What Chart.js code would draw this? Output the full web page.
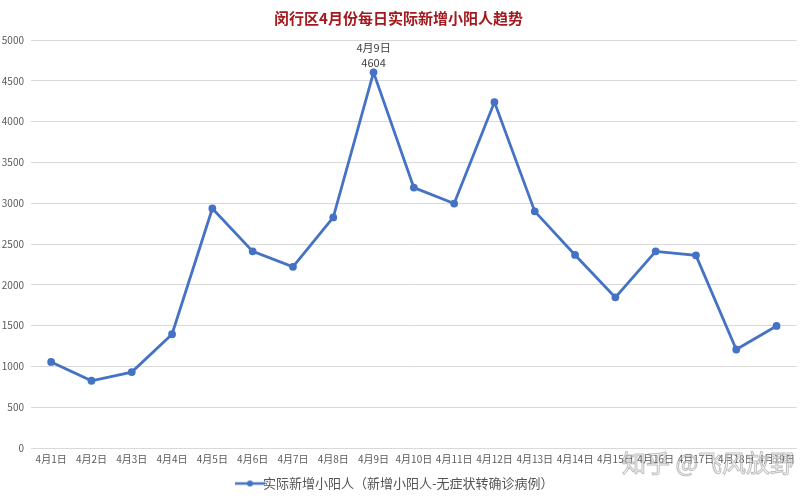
<!DOCTYPE html>
<html>
<head>
<meta charset="utf-8">
<script src="https://cdn.jsdelivr.net/npm/chart.js@4"></script>
<style>
  html, body { margin: 0; padding: 0; background: #fff; }
</style>
</head>
<body>
<canvas id="trend-chart" width="802" height="500"></canvas>
<script>
// Daily numbers
const days = ['4月1日', '4月2日', '4月3日', '4月4日', '4月5日', '4月6日', '4月7日', '4月8日', '4月9日', '4月10日',
    '4月11日', '4月12日', '4月13日', '4月14日', '4月15日', '4月16日', '4月17日', '4月18日', '4月19日'];
const newCases = [1055, 824, 930, 1394, 2935, 2410, 2220, 2826, 4604, 3191,
    2996, 4239, 2900, 2366, 1846, 2410, 2361, 1207, 1496];
const yTicks = [0, 500, 1000, 1500, 2000, 2500, 3000, 3500, 4000, 4500, 5000];
const labelledIndex = 8; // only the peak carries a label

const blue = '#4472C4';
const font = "'Noto Sans CJK SC', 'Liberation Sans', sans-serif";

// legend marker: a short line with a dot in the middle
const marker = document.createElement('canvas');
marker.width = 30;
marker.height = 8;
const mctx = marker.getContext('2d');
mctx.strokeStyle = blue;
mctx.lineWidth = 2.5;
mctx.beginPath();
mctx.moveTo(0, 4);
mctx.lineTo(30, 4);
mctx.stroke();
mctx.fillStyle = blue;
mctx.beginPath();
mctx.arc(15, 4, 3, 0, Math.PI * 2);
mctx.fill();

// peak label + watermark
const extras = {
    id: 'extras',
    afterDatasetsDraw(chart) {
        const c = chart.ctx;
        const x = chart.scales.x.getPixelForValue(labelledIndex);
        const y = chart.scales.y.getPixelForValue(newCases[labelledIndex]);
        c.save();
        c.fillStyle = '#404040';
        c.font = '11px ' + font;
        c.textAlign = 'center';
        c.textBaseline = 'middle';
        c.fillText(days[labelledIndex], x, y - 25);
        c.fillText(String(newCases[labelledIndex]), x, y - 10);
        c.restore();
    },
    afterDraw(chart) {
        const c = chart.ctx;
        c.save();
        c.font = '24px ' + font;
        c.textAlign = 'left';
        c.textBaseline = 'middle';
        c.fillStyle = 'rgba(255,255,255,0.55)';
        c.strokeStyle = 'rgba(110,110,110,0.45)';
        c.lineWidth = 1;
        c.fillText('知乎 @飞风放野', 622, 463);
        c.strokeText('知乎 @飞风放野', 622, 463);
        c.restore();
    }
};

new Chart(document.getElementById('trend-chart').getContext('2d'), {
    type: 'line',
    data: {
        labels: days,
        datasets: [{
            label: '实际新增小阳人（新增小阳人-无症状转确诊病例）',
            data: newCases,
            borderColor: blue,
            backgroundColor: blue,
            borderWidth: 2.8,
            pointRadius: 2.5,
            pointHoverRadius: 2.5,
            tension: 0,
            pointStyle: 'circle'
        }]
    },
    options: {
        responsive: false,
        animation: false,
        layout: { padding: { left: 0, right: 5, top: 0, bottom: 0 } },
        plugins: {
            tooltip: { enabled: false },
            title: {
                display: true,
                text: '闵行区4月份每日实际新增小阳人趋势',
                color: '#A31A1E',
                font: { family: font, size: 15, weight: 'bold' },
                padding: { top: 9, bottom: 13 }
            },
            legend: {
                position: 'bottom',
                labels: {
                    color: '#555555',
                    font: { family: font, size: 13 },
                    usePointStyle: true,
                    padding: 7,
                    generateLabels(chart) {
                        const items = Chart.defaults.plugins.legend.labels.generateLabels(chart);
                        items.forEach(it => { it.pointStyle = marker; });
                        return items;
                    }
                }
            }
        },
        scales: {
            x: {
                offset: true,
                grid: { display: false, drawTicks: false },
                border: { display: false },
                ticks: {
                    color: '#595959',
                    font: { family: font, size: 10 },
                    maxRotation: 0,
                    autoSkip: false,
                    padding: 5
                }
            },
            y: {
                min: 0,
                max: 5000,
                afterBuildTicks(scale) {
                    scale.ticks = yTicks.map(v => ({ value: v }));
                },
                afterFit(scale) {
                    scale.width = 31;
                },
                grid: { color: '#D9D9D9', lineWidth: 1, drawTicks: false },
                border: { display: false },
                ticks: {
                    color: '#595959',
                    font: { family: font, size: 10 },
                    padding: 7,
                    callback: v => String(v)
                }
            }
        }
    },
    plugins: [extras]
});
</script>
</body>
</html>
